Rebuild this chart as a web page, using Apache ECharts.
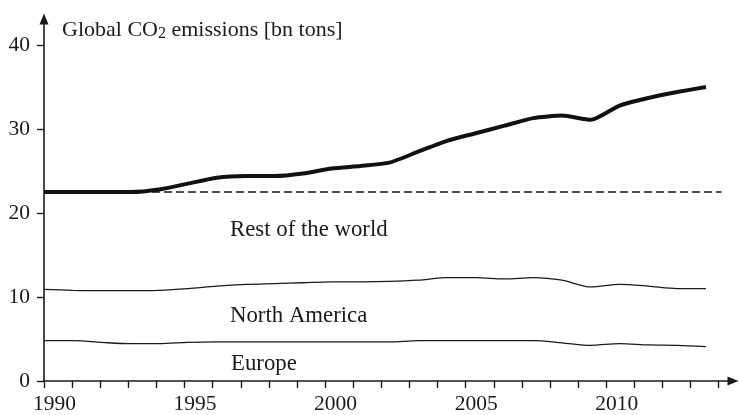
<!DOCTYPE html>
<html>
<head>
<meta charset="utf-8">
<script src="https://cdn.jsdelivr.net/npm/echarts@6/dist/echarts.min.js"></script>
<style>
html,body{margin:0;padding:0;background:#fff;}
#chart{width:739px;height:415px;}
</style>
</head>
<body>
<div id="chart"></div>
<script>
// ---- data ----
var years = [1990,1991,1992,1993,1994,1995,1996,1997,1998,1999,2000,2001,2002,2003,2004,2005,2006,2007,2008,2009,2010,2011,2012,2013];
// cumulative boundaries (bn tons)
var globalTotal = [22.5,22.5,22.5,22.5,22.8,23.5,24.2,24.4,24.4,24.7,25.3,25.6,26.0,27.3,28.6,29.5,30.4,31.3,31.6,31.1,32.8,33.7,34.4,35.0];
var europePlusNorthAmerica = [10.9,10.8,10.75,10.75,10.8,11.0,11.3,11.5,11.6,11.7,11.8,11.8,11.85,12.0,12.3,12.3,12.15,12.3,12.0,11.2,11.5,11.3,11.0,11.0];
var europe = [4.8,4.8,4.6,4.45,4.45,4.6,4.65,4.65,4.65,4.65,4.65,4.65,4.65,4.8,4.8,4.8,4.8,4.8,4.55,4.25,4.45,4.3,4.25,4.1];
var level1990 = globalTotal[0];
var dashEndYear = 2014.1;
var xTickValues = [1990,1991,1992,1993,1994,1995,1996,1997,1998,1999,2000,2001,2002,2003,2004,2005,2006,2007,2008,2009,2010,2011,2012,2013,2014];
var xLabelValues = [1990,1995,2000,2005,2010];
var yTickValues = [0,10,20,30,40];
var regionLabels = ['Rest of the world','North America','Europe'];
var titleText = 'Global CO{s|2} emissions [bn tons]';

function pairs(xs, ys){ return xs.map(function(x,i){ return [x, ys[i]]; }); }

var FONT = '"Liberation Serif", "Times New Roman", serif';
var INK = '#1a1a1a';

var chart = echarts.init(document.getElementById('chart'), null, {renderer:'canvas'});
chart.setOption({
  animation:false,
  backgroundColor:'#ffffff',
  grid:{left:44, right:6, top:19, bottom:34, containLabel:false},
  xAxis:[{
    type:'value', min:1990, max:2014.51, interval:1,
    axisLine:{show:true, onZero:false, symbol:['none','triangle'], symbolSize:[9,11], lineStyle:{color:INK, width:1.6}},
    axisTick:{show:true, length:7, inside:false, customValues:xTickValues, lineStyle:{color:INK, width:1.4}},
    axisLabel:{show:true, customValues:xLabelValues, margin:12, padding:[0,0,0,21], color:INK, fontFamily:FONT, fontSize:21.5,
      formatter:function(v){ return String(Math.round(v)); }},
    splitLine:{show:false}
  },{
    type:'value', min:1990, max:2013.94, show:false,
    axisLine:{show:false}, axisTick:{show:false}, axisLabel:{show:false}, splitLine:{show:false}
  }],
  yAxis:{
    type:'value', min:0, max:43.1, interval:10,
    axisLine:{show:true, onZero:false, symbol:['none','triangle'], symbolSize:[9,11], lineStyle:{color:INK, width:1.6}},
    axisTick:{show:true, length:7, customValues:yTickValues, lineStyle:{color:INK, width:1.4}},
    axisLabel:{show:true, customValues:yTickValues, margin:14, color:INK, fontFamily:FONT, fontSize:21.5,
      formatter:function(v){ return String(Math.round(v)); }},
    splitLine:{show:false}
  },
  series:[
    {type:'line', xAxisIndex:0, data:[[years[0], level1990],[dashEndYear, level1990]], symbol:'none',
     lineStyle:{color:INK, width:1.3, type:[8,4]}, z:2},
    {type:'line', xAxisIndex:1, data:pairs(years, europe), symbol:'none', smooth:0.3,
     lineStyle:{color:INK, width:1.3}, z:3},
    {type:'line', xAxisIndex:1, data:pairs(years, europePlusNorthAmerica), symbol:'none', smooth:0.3,
     lineStyle:{color:INK, width:1.3}, z:3},
    {type:'line', xAxisIndex:1, data:pairs(years, globalTotal), symbol:'none', smooth:0.2,
     lineStyle:{color:'#111', width:4}, z:5}
  ],
  graphic:[
    {type:'text', x:62, y:30.5, z:10, style:{text:titleText, font:'22px ' + FONT, fill:INK, verticalAlign:'middle', align:'left',
      rich:{s:{fontSize:16, fontFamily:FONT, fill:INK, verticalAlign:'bottom', lineHeight:7}}}},
    {type:'text', x:230, y:230, z:10, style:{text:regionLabels[0], font:'22.8px ' + FONT, fill:INK, verticalAlign:'middle', align:'left'}},
    {type:'text', x:230, y:316.5, z:10, style:{text:regionLabels[1], font:'22.8px ' + FONT, fill:INK, verticalAlign:'middle', align:'left'}},
    {type:'text', x:231, y:364.5, z:10, style:{text:regionLabels[2], font:'22.8px ' + FONT, fill:INK, verticalAlign:'middle', align:'left'}}
  ]
});
</script>
</body>
</html>
